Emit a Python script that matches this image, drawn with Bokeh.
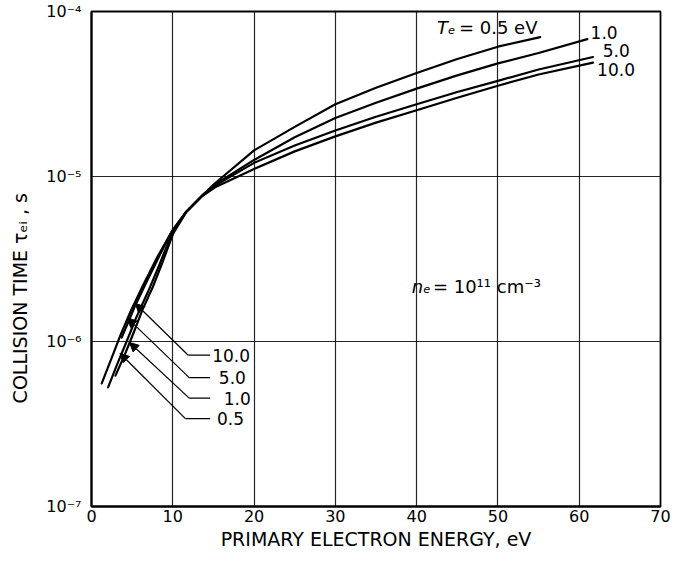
import math
from bokeh.plotting import figure
from bokeh.models import Label, Arrow, NormalHead, FixedTicker, Range1d, ColumnDataSource
from bokeh.core.properties import value
from bokeh.embed import file_html
from bokeh.resources import INLINE

FONT = "DejaVu Sans"

# ---------------- data ----------------
te_values = ["0.5", "1.0", "5.0", "10.0"]

energy_05 = [2.04, 3.18, 4.36, 5.54, 6.95, 8.37, 9.90, 11.67, 13.55, 15.2, 20, 25, 30, 35, 40, 45, 50, 55.2]
tau_05 = [5.27e-7, 7.31e-7, 1.01e-6, 1.41e-6, 2.00e-6, 2.93e-6, 4.54e-6, 6.12e-6, 7.62e-6, 9.1e-6,
          1.44e-5, 2.0e-5, 2.74e-5, 3.45e-5, 4.24e-5, 5.15e-5, 6.12e-5, 7.0e-5]

energy_10 = [2.95, 4.12, 5.18, 6.25, 7.54, 8.72, 10.02, 11.67, 13.55, 15.2, 20, 25, 30, 35, 40, 45, 50, 55, 61]
tau_10 = [6.21e-7, 8.38e-7, 1.13e-6, 1.55e-6, 2.14e-6, 3.01e-6, 4.48e-6, 6.1e-6, 7.6e-6, 8.95e-6,
          1.26e-5, 1.73e-5, 2.26e-5, 2.8e-5, 3.41e-5, 4.1e-5, 4.85e-5, 5.6e-5, 6.8e-5]

energy_50 = [1.26, 2.47, 3.65, 4.83, 6.36, 8.13, 9.90, 11.67, 13.55, 15.2, 20, 25, 30, 35, 40, 45, 50, 55, 61.7]
tau_50 = [5.57e-7, 7.93e-7, 1.12e-6, 1.53e-6, 2.20e-6, 3.27e-6, 4.66e-6, 6.14e-6, 7.6e-6, 8.8e-6,
          1.21e-5, 1.54e-5, 1.90e-5, 2.3e-5, 2.74e-5, 3.25e-5, 3.80e-5, 4.45e-5, 5.3e-5]

energy_100 = [3.71, 4.63, 5.40, 6.78, 8.37, 9.90, 11.67, 13.55, 15.2, 20, 25, 30, 35, 40, 45, 50, 55, 61.7]
tau_100 = [1.057e-6, 1.35e-6, 1.66e-6, 2.30e-6, 3.32e-6, 4.66e-6, 6.12e-6, 7.55e-6, 8.6e-6,
           1.11e-5, 1.42e-5, 1.75e-5, 2.12e-5, 2.52e-5, 3.0e-5, 3.55e-5, 4.15e-5, 4.9e-5]

x_ticks = [0, 10, 20, 30, 40, 50, 60, 70]
y_ticks = [1e-7, 1e-6, 1e-5, 1e-4]
y_tick_labels = ["10\u207b\u2077", "10\u207b\u2076", "10\u207b\u2075", "10\u207b\u2074"]

# leader-line annotations for the low-energy end (label, tip, elbow, end of horizontal)
lead_text = ["10.0", "5.0", "1.0", "0.5"]
lead_tip_x = [5.39, 4.40, 4.68, 3.50]
lead_tip_y = [1.70e-6, 1.39e-6, 9.86e-7, 8.49e-7]
lead_elb_x = [11.90, 12.02, 12.02, 11.55]
lead_elb_y = [8.26e-7, 6.04e-7, 4.54e-7, 3.41e-7]
lead_end_x = [14.6, 14.6, 14.6, 14.6]
lead_lab_x = [14.85, 15.67, 16.26, 15.44]

# end-of-curve labels at upper right
end_text = ["1.0", "5.0", "10.0"]
end_x = [61.4, 62.9, 62.2]
end_y = [7.41e-5, 5.80e-5, 4.48e-5]

# ---------------- figure ----------------
p = figure(width=671, height=552, x_range=Range1d(0, 70), y_range=Range1d(1e-7, 1e-4),
           y_axis_type="log", output_backend="svg", toolbar_location=None,
           min_border_left=91, min_border_right=11, min_border_top=11, min_border_bottom=10)
p.background_fill_color = "white"
p.border_fill_color = "white"
p.outline_line_color = "black"
p.outline_line_width = 1.8

# axes
p.xaxis.ticker = FixedTicker(ticks=x_ticks, minor_ticks=[])
p.yaxis.ticker = FixedTicker(ticks=y_ticks, minor_ticks=[])
p.yaxis.major_label_overrides = {t: l for t, l in zip(y_ticks, y_tick_labels)}
for ax in (p.xaxis, p.yaxis):
    ax.axis_line_color = "black"
    ax.axis_line_width = 2
    ax.major_tick_out = 0
    ax.major_tick_in = 0
    ax.minor_tick_out = 0
    ax.minor_tick_in = 0
    ax.major_label_text_font = FONT
    ax.major_label_text_font_size = "16px"
    ax.major_label_text_color = "black"
    ax.axis_label_text_font = FONT
    ax.axis_label_text_font_size = "19px"
    ax.axis_label_text_font_style = "normal"
    ax.axis_label_text_color = "black"
p.xaxis.major_label_standoff = 3
p.yaxis.major_label_standoff = 10
p.xaxis.axis_label = "PRIMARY ELECTRON ENERGY, eV"
p.xaxis.axis_label_standoff = 3
# y title: trailing no-break spaces shift the visible text downward, as in the original
p.yaxis.axis_label = "COLLISION TIME \u03c4\u2091\u1d62 , s" + "\u00a0" * 13
p.yaxis.axis_label_standoff = 12

# grid
p.xgrid.ticker = FixedTicker(ticks=x_ticks[1:-1])
p.ygrid.ticker = FixedTicker(ticks=y_ticks[1:-1])
for g in (p.xgrid, p.ygrid):
    g.grid_line_color = "black"
    g.grid_line_width = 1.2
    g.grid_line_alpha = 0.85

# curves
for ex, tau in ((energy_05, tau_05), (energy_10, tau_10), (energy_50, tau_50), (energy_100, tau_100)):
    p.line(ex, tau, line_color="black", line_width=2.2, line_join="round", line_cap="round")

# leader lines with arrowheads
for i in range(len(lead_text)):
    p.add_layout(Arrow(end=NormalHead(size=9, fill_color="black", line_color="black"),
                       x_start=lead_elb_x[i], y_start=lead_elb_y[i],
                       x_end=lead_tip_x[i], y_end=lead_tip_y[i],
                       line_color="black", line_width=1.2))
p.segment(x0=lead_elb_x, y0=lead_elb_y, x1=lead_end_x, y1=lead_elb_y, line_color="black", line_width=1.2)

src_lead = ColumnDataSource(dict(x=lead_lab_x, y=lead_elb_y, t=lead_text))
p.text(x="x", y="y", text="t", source=src_lead, text_font=value(FONT), text_font_size="17px",
       text_align="left", text_baseline="middle", text_color="black")

src_end = ColumnDataSource(dict(x=end_x, y=end_y, t=end_text))
p.text(x="x", y="y", text="t", source=src_end, text_font=value(FONT), text_font_size="17px",
       text_align="left", text_baseline="middle", text_color="black")

# T_e label
p.add_layout(Label(x=42.5, y=8.0e-5, text="T\u2091", text_font=FONT, text_font_size="18px",
                   text_font_style="italic", text_baseline="middle", text_color="black"))
p.add_layout(Label(x=45.2, y=8.0e-5, text="= 0.5 eV", text_font=FONT, text_font_size="18px",
                   text_baseline="middle", text_color="black"))

# n_e label
p.add_layout(Label(x=39.4, y=2.14e-6, text="n\u2091", text_font=FONT, text_font_size="18px",
                   text_font_style="italic", text_baseline="middle", text_color="black"))
p.add_layout(Label(x=42.0, y=2.14e-6, text="= 10\u00b9\u00b9 cm\u207b\u00b3", text_font=FONT,
                   text_font_size="18px", text_baseline="middle", text_color="black"))

open("out.html", "w").write(file_html(p, INLINE))
